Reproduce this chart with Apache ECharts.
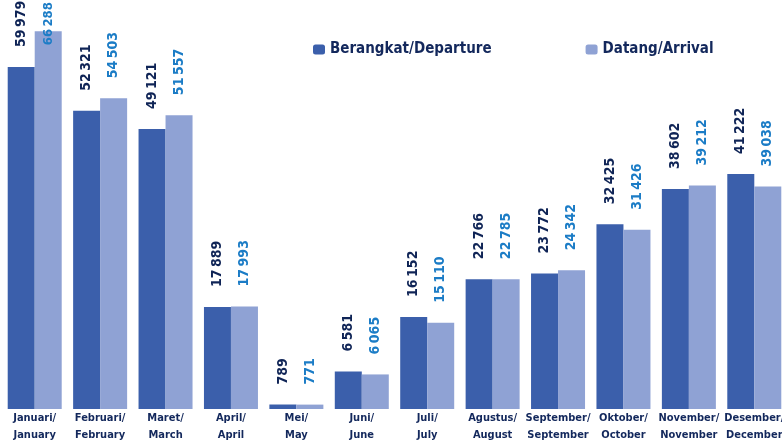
<!DOCTYPE html>
<html>
<head>
<meta charset="utf-8">
<script src="https://cdn.jsdelivr.net/npm/echarts@6/dist/echarts.min.js"></script>
<style>
  html, body { margin: 0; padding: 0; background: #fff; }
  #chart { width: 782px; height: 444px; }
</style>
</head>
<body>
<div id="chart"></div>
<script>
const months = [
  "Januari/\nJanuary", "Februari/\nFebruary", "Maret/\nMarch", "April/\nApril",
  "Mei/\nMay", "Juni/\nJune", "Juli/\nJuly", "Agustus/\nAugust",
  "September/\nSeptember", "Oktober/\nOctober", "November/\nNovember", "Desember/\nDecember"
];
const departure = [59979, 52321, 49121, 17889, 789, 6581, 16152, 22766, 23772, 32425, 38602, 41222];
const arrival = [66288, 54503, 51557, 17993, 771, 6065, 15110, 22785, 24342, 31426, 39212, 39038];

const font = "'DejaVu Sans Condensed', 'Liberation Sans Narrow', sans-serif";
// thousands separated by a narrow space, like the original
const fmt = (p) => String(p.value).replace(/\B(?=(\d{3})+(?!\d))/g, "\u2009");

const barLabel = (color) => ({
  show: true,
  position: "top",
  rotate: 90,
  align: "left",
  verticalAlign: "middle",
  distance: 20,
  fontFamily: font,
  fontWeight: "bold",
  fontSize: 14,
  color: color,
  formatter: fmt
});

const myChart = echarts.init(document.getElementById("chart"));

// January arrival label is pushed down so it stays inside the picture
const arrivalData = arrival.map((v, i) => i === 0
  ? { value: v, label: { distance: -14, fontSize: 13 } }
  : v);

const option = {
  animation: false,
  legend: {
    left: 313,
    top: 42,
    padding: 0,
    itemWidth: 12,
    itemHeight: 10,
    itemGap: 94,
    textStyle: { fontFamily: font, fontWeight: "bold", fontSize: 15, color: "#13285c" },
    data: ["Berangkat/Departure", "Datang/Arrival"]
  },
  grid: { left: 2, top: 10, width: 785, bottom: 35, outerBoundsMode: "none", containLabel: false },
  xAxis: {
    type: "category",
    data: months,
    axisLine: { show: false },
    axisTick: { show: false },
    axisLabel: {
      interval: 0,
      margin: 1,
      lineHeight: 17,
      fontFamily: font,
      fontWeight: "bold",
      fontSize: 11,
      color: "#13285c"
    }
  },
  yAxis: {
    type: "value",
    min: 0,
    max: 70000,
    show: false,
    splitLine: { show: false }
  },
  series: [
    {
      name: "Berangkat/Departure",
      type: "bar",
      data: departure,
      barWidth: 27,
      barGap: "0%",
      itemStyle: { color: "#3b5fab" },
      label: barLabel("#0f2456")
    },
    {
      name: "Datang/Arrival",
      type: "bar",
      data: arrivalData,
      barWidth: 27,
      itemStyle: { color: "#8fa2d4" },
      label: barLabel("#1b7cc6")
    }
  ]
};

myChart.setOption(option);
</script>
</body>
</html>
